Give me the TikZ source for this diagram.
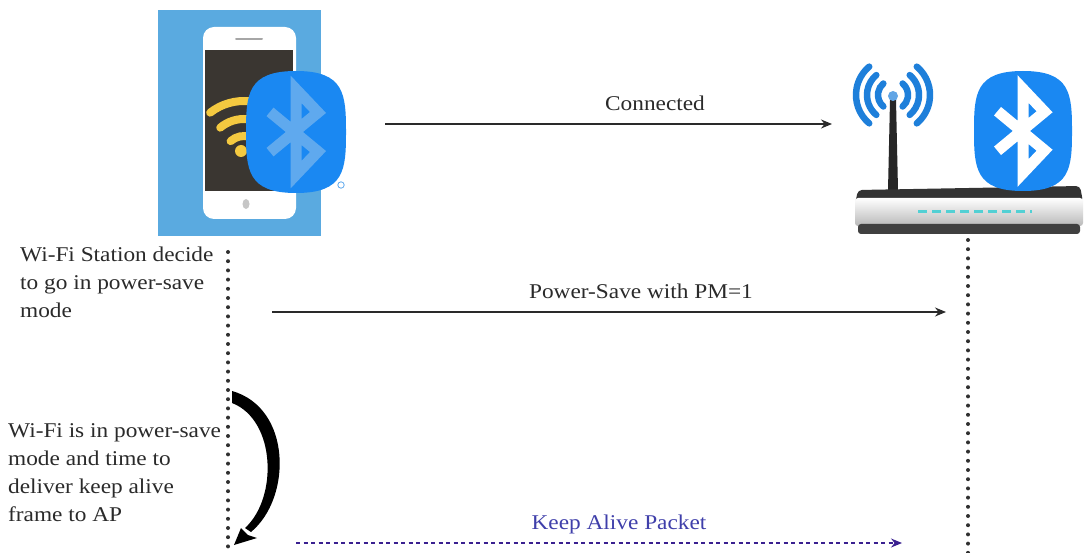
\documentclass[tikz,border=0pt]{standalone}
\usepackage{fontspec}
\setmainfont{Liberation Serif}
\newfontfamily\labelfont[FakeStretch=1.11]{Liberation Serif}
\usetikzlibrary{arrows.meta}

\definecolor{phonebg}{HTML}{5AAAE0}
\definecolor{btblue}{HTML}{1A88F2}
\definecolor{btrune}{HTML}{5FA9EE}
\definecolor{screen}{HTML}{3A3631}
\definecolor{wifiyel}{HTML}{F4C940}
\definecolor{wave}{HTML}{1E7FDA}
\definecolor{ledcyan}{HTML}{52D0D4}
\definecolor{kaline}{HTML}{3A2090}
\definecolor{katext}{HTML}{3F3FAA}
\definecolor{txt}{HTML}{2A2A2A}
\definecolor{lifeline}{HTML}{303030}

\tikzset{
  msg/.style={line width=1.4pt, -{Stealth[length=11pt,width=9pt]}, txt},
  kamsg/.style={line width=1.2pt, dash pattern=on 4pt off 3.5pt, kaline,
                -{Stealth[length=11pt,width=9pt]}},
  msglabel/.style={font=\labelfont\fontsize{21}{28}\selectfont, text=txt, anchor=base, inner sep=0pt},
  note/.style={font=\labelfont\fontsize{21}{28}\selectfont, text=txt, align=left, anchor=north west, inner sep=0pt},
  lifelinestyle/.style={lifeline, line width=4pt, line cap=round, dash pattern=on 0pt off 9.2pt},
  rune/.style={line width=11pt, miter limit=10},
}

% Bluetooth badge: blob centred at #1 with half sizes #2,#3, rune colour #4
\newcommand{\btbadge}[4]{%
  \begin{scope}[shift={#1}]
    \fill[btblue] (0,-#3) .. controls (0.97*#2,-#3) and (#2,-0.62*#3) .. (#2,0)
      .. controls (#2,0.62*#3) and (0.97*#2,#3) .. (0,#3)
      .. controls (-0.97*#2,#3) and (-#2,0.62*#3) .. (-#2,0)
      .. controls (-#2,-0.62*#3) and (-0.97*#2,-#3) .. cycle;
    \draw[rune, draw=#4] (-0.52*#2,0.33*#3) -- (0.44*#2,-0.32*#3) -- (0,-0.7*#3)
      -- (0,0.7*#3) -- (0.44*#2,0.32*#3) -- (-0.52*#2,-0.33*#3);
  \end{scope}}

\begin{document}
\begin{tikzpicture}[x=1pt,y=-1pt]
\useasboundingbox (0,0) rectangle (1086,553);
\fill[white] (0,0) rectangle (1086,553);

% ---------- Wi-Fi station (phone) ----------
\fill[phonebg] (158,10) rectangle (321,236);
\fill[white, rounded corners=11pt] (203,27) rectangle (296,219);
\fill[screen] (205,50) rectangle (293,191);
\draw[gray!70, line width=2pt, line cap=round] (236,39) -- (262,39);
\fill[gray!45] (246,204) ellipse (3.5pt and 5pt);
% Wi-Fi symbol on the screen
\begin{scope}[wifiyel, line width=8pt, line cap=round]
  \fill (241,151) circle (6pt);
  \draw (244,156) ++(-132:20) arc[start angle=-132, end angle=-40, radius=20];
  \draw (244,156) ++(-130:37) arc[start angle=-130, end angle=-40, radius=37];
  \draw (244,156) ++(-128:55) arc[start angle=-128, end angle=-40, radius=55];
\end{scope}
\btbadge{(296,132)}{50}{61}{btrune}
\draw[btrune, line width=0.8pt] (341,185) circle (3.2pt);

% ---------- Access point (router) ----------
\begin{scope}[wave, line width=6.5pt, line cap=round]
  \foreach \r in {15,26,37}{
    \draw (893,95) ++(130:\r) arc[start angle=130, end angle=230, radius=\r];
    \draw (893,95) ++(-50:\r) arc[start angle=-50, end angle=50, radius=\r];
  }
\end{scope}
\fill[black!85] (890,100) -- (896,100) -- (898,190) -- (888,190) -- cycle;
\fill[wave!70!white] (893,96) circle (5pt);
% router body
\fill[black!80, rounded corners=4pt] (858,190) -- (1080,186) -- (1083,202) -- (855,204) -- cycle;
\shade[top color=white, bottom color=gray!55, rounded corners=3pt] (855,198) rectangle (1083,226);
\fill[black!75, rounded corners=3pt] (858,224) rectangle (1080,234);
\draw[ledcyan, line width=3pt, dash pattern=on 9pt off 5pt] (918,212) -- (1032,212);
\btbadge{(1023,131)}{49}{60}{white}

% ---------- lifelines ----------
\coordinate (staTop) at (228,252);
\coordinate (staBot) at (228,553);
\coordinate (apTop) at (968,240);
\coordinate (apBot) at (968,553);
\draw[lifelinestyle] (staTop) -- (staBot);
\draw[lifelinestyle] (apTop) -- (apBot);

% ---------- messages ----------
\coordinate (c1a) at (385,124);  \coordinate (c1b) at (832,124);
\coordinate (c2a) at (272,312);  \coordinate (c2b) at (946,312);
\coordinate (c3a) at (296,543);  \coordinate (c3b) at (902,543);
\draw[msg] (c1a) -- (c1b);
\node[msglabel] (lblConnected) at (655,111) {Connected};
\draw[msg] (c2a) -- (c2b);
\node[msglabel] (lblPS) at (641,298) {Power-Save with PM=1};
\draw[kamsg] (c3a) -- (c3b);
\node[msglabel, text=katext] (lblKA) at (619,529) {Keep Alive Packet};

% ---------- notes ----------
\node[note] (note1) at (20,247) {Wi-Fi Station decide\\to go in power-save\\mode};
\node[note] (note2) at (8,423) {Wi-Fi is in power-save\\mode and time to\\deliver keep alive\\frame to AP};

% ---------- self arrow (waiting in power-save) ----------
\fill[black] (232,391) .. controls (292,408) and (292,498) .. (251,532)
  -- (245,528) .. controls (278,498) and (276,420) .. (232,403) -- cycle;
\fill[black] (234,545) -- (241,528) -- (248,535) -- (257,538) -- cycle;
\end{tikzpicture}
\end{document}
